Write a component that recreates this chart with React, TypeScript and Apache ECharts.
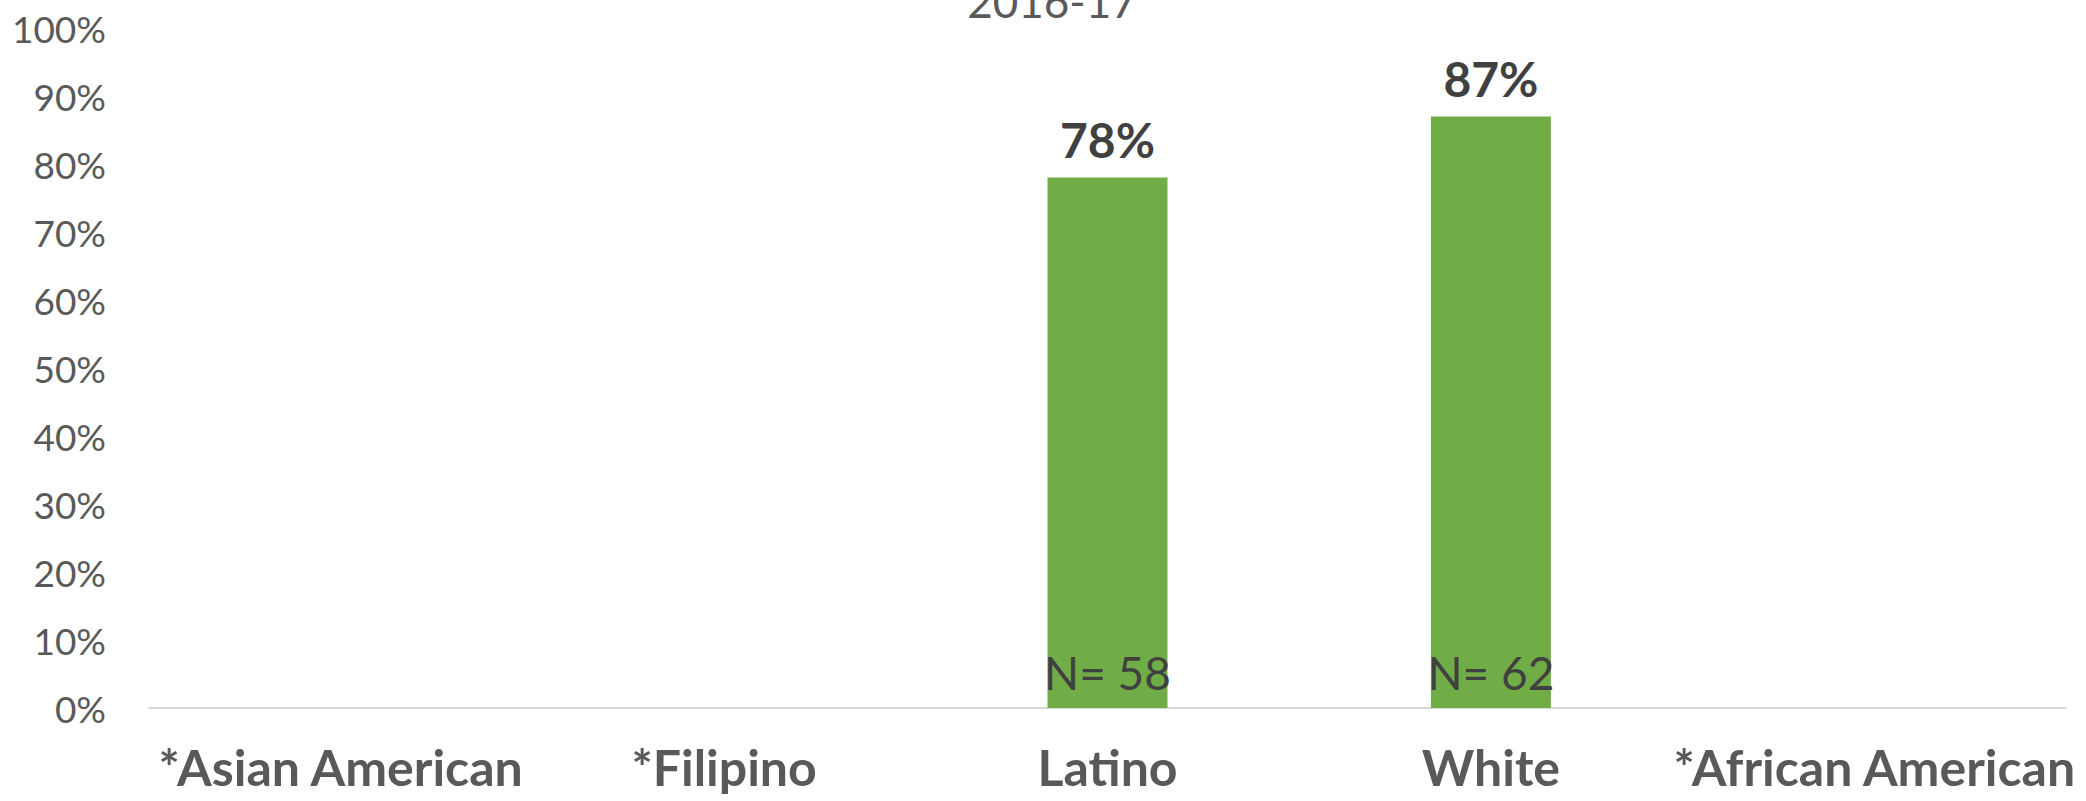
import React, { useEffect, useRef } from "react";
import * as echarts from "echarts";

const categories = ["*Asian American", "*Filipino", "Latino", "White", "*African American"];
const rates: (number | null)[] = [null, null, 78, 87, null];
const nCounts: (number | null)[] = [null, null, 58, 62, null];
const yTicks = { min: 0, max: 100, interval: 10 };
const chartTitle = "2016-17";

const FONT = "Lato, 'Noto Sans', sans-serif";

export default function App() {
  const ref = useRef<HTMLDivElement>(null);
  useEffect(() => {
    document.body.style.margin = "0";
    const chart = echarts.init(ref.current!, null, { renderer: "svg" });
    chart.setOption({
      animation: false,
      backgroundColor: "#ffffff",
      textStyle: { fontFamily: FONT },
      graphic: [
        {
          type: "text",
          x: 1052,
          y: 23,
          style: {
            text: chartTitle,
            fontFamily: FONT,
            fontSize: 44,
            fill: "#595959",
            textAlign: "center",
            textVerticalAlign: "bottom",
          },
        },
      ],
      grid: { left: 149, right: 20, top: 28, bottom: 93, outerBoundsMode: "none" },
      xAxis: {
        type: "category",
        data: categories,
        axisLine: { show: true, lineStyle: { color: "#D9D9D9", width: 2 } },
        axisTick: { show: false },
        axisLabel: {
          interval: 0,
          margin: 34,
          fontSize: 50,
          fontWeight: "bold",
          color: "#595959",
          fontFamily: FONT,
        },
      },
      yAxis: {
        type: "value",
        min: yTicks.min,
        max: yTicks.max,
        interval: yTicks.interval,
        splitLine: { show: false },
        axisLine: { show: false },
        axisTick: { show: false },
        axisLabel: {
          formatter: "{value}%",
          margin: 43,
          fontSize: 37,
          color: "#595959",
          fontFamily: FONT,
        },
      },
      series: [
        {
          type: "bar",
          data: rates,
          barWidth: 120,
          itemStyle: { color: "#70AD47" },
          label: {
            show: true,
            position: "top",
            distance: 14,
            formatter: (p: any) => (p.value == null ? "" : `${p.value}%`),
            fontSize: 48,
            fontWeight: "bold",
            color: "#404040",
            fontFamily: FONT,
          },
        },
        {
          type: "bar",
          data: rates,
          barWidth: 120,
          barGap: "-100%",
          itemStyle: { color: "rgba(0,0,0,0)" },
          label: {
            show: true,
            position: "insideBottom",
            distance: 13,
            formatter: (p: any) => (nCounts[p.dataIndex] == null ? "" : `N= ${nCounts[p.dataIndex]}`),
            fontSize: 46,
            color: "#404040",
            fontFamily: FONT,
          },
        },
      ],
    });
    return () => chart.dispose();
  }, []);
  return <div ref={ref} style={{ width: 2086, height: 801 }} />;
}
